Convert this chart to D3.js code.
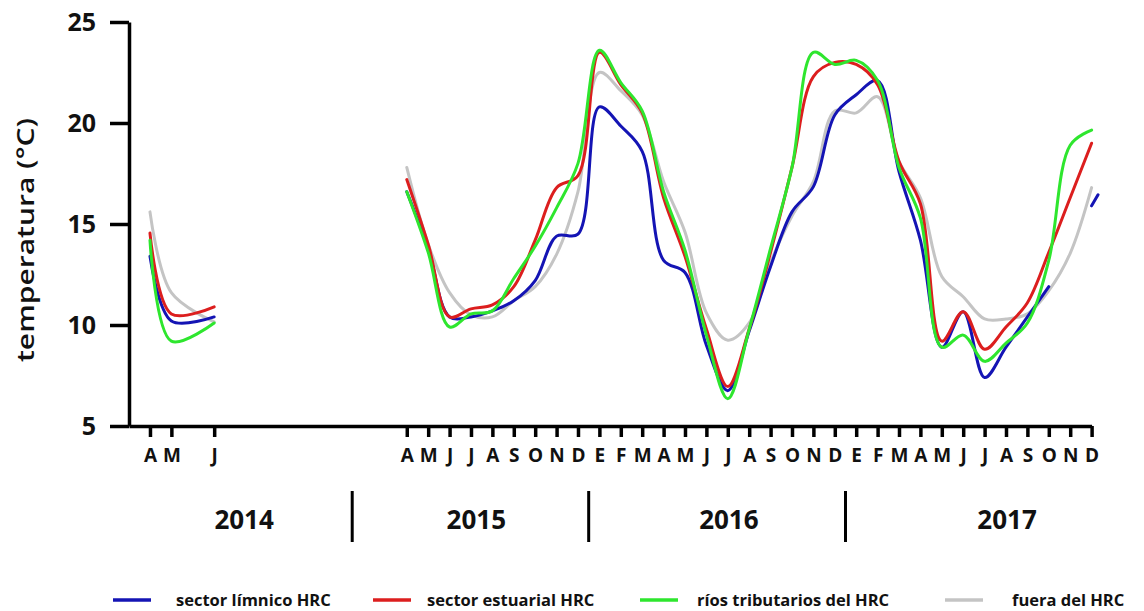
<!DOCTYPE html>
<html>
<head>
<meta charset="utf-8">
<script src="https://cdn.jsdelivr.net/npm/d3@7"></script>
<style>
  html, body { margin: 0; padding: 0; background: #fff; }
  svg { display: block; }
  text { font-family: "Open Sans", "DejaVu Sans", sans-serif; }
</style>
</head>
<body>
<svg id="chart" width="1144" height="611"></svg>
<script>
// ---- data (month index: 0 = April 2014 ... 44 = December 2017) ----
const sampleMonths = [0, 1, 3, 8,
  12, 13, 14, 15, 16, 17, 18, 19, 20,
  21, 22, 23, 24, 25, 26, 27, 28, 29, 30, 31, 32,
  33, 34, 35, 36, 37, 38, 39, 40, 41, 42, 43, 44, 44.3];

const limnico = [13.4, 10.2, 10.4, null,
  16.6, 13.8, 10.4, 10.4, 10.7, 11.2, 12.2, 14.4, 14.5,
  20.8, 19.85, 18.6, 13.2, 12.6, 9.0, 6.75, 9.7, 12.9, 15.6, 16.85, 20.4,
  21.4, 22.1, 17.6, 14.2, 8.9, 10.66, 7.4, 8.9, 10.4, 11.9, null, 15.9, 16.45];

const estuarial = [14.55, 10.55, 10.9, null,
  17.2, 14.0, 10.4, 10.8, 11.0, 11.9, 14.2, 16.8, 17.4,
  23.5, 21.9, 20.5, 16.3, 13.4, 9.8, 6.95, 9.8, 13.6, 17.8, 22.3, 23.0,
  22.9, 21.9, 18.1, 16.0, 9.2, 10.66, 8.8, 9.9, 11.1, 13.6, 16.3, 19.0, null];

const tributarios = [14.2, 9.2, 10.1, null,
  16.6, 13.6, 9.9, 10.55, 10.7, 12.3, 13.9, 15.8, 18.0,
  23.6, 22.0, 20.6, 16.6, 13.7, 9.5, 6.35, 9.8, 13.8, 17.8, 23.5, 22.9,
  23.1, 22.1, 17.8, 15.3, 8.9, 9.5, 8.2, 9.1, 10.1, 13.2, 18.9, 19.65, null];

const fuera = [15.6, 11.6, 10.15, null,
  17.8, 14.0, 11.6, 10.5, 10.4, 11.2, 11.9, 13.5, 16.6,
  22.5, 21.6, 20.4, 17.1, 14.6, 10.6, 9.25, 10.1, 13.1, 15.4, 17.1, 20.6,
  20.5, 21.3, 18.1, 16.3, 12.4, 11.4, 10.3, 10.3, 10.55, 11.7, 13.55, 16.8, null];

const seriesNames = ["sector límnico HRC", "sector estuarial HRC", "ríos tributarios del HRC", "fuera del HRC"];
const seriesColors = ["#1414b4", "#dc1e1e", "#2ee62e", "#c4c4c4"];

const tickMonths = [0, 1, 3,
  12, 13, 14, 15, 16, 17, 18, 19, 20,
  21, 22, 23, 24, 25, 26, 27, 28, 29, 30, 31, 32,
  33, 34, 35, 36, 37, 38, 39, 40, 41, 42, 43, 44];
const tickLabels = ["A", "M", "J",
  "A", "M", "J", "J", "A", "S", "O", "N", "D",
  "E", "F", "M", "A", "M", "J", "J", "A", "S", "O", "N", "D",
  "E", "F", "M", "A", "M", "J", "J", "A", "S", "O", "N", "D"];

const years = ["2014", "2015", "2016", "2017"];
const yearCenters = [4.4, 15.25, 27.05, 40.05];
const yearDividers = [9.45, 20.5, 32.5];
const yTicks = [5, 10, 15, 20, 25];

// ---- layout ----
const svg = d3.select("#chart");
const x = d3.scaleLinear().domain([-0.98, 44]).range([129, 1091.6]);
const y = d3.scaleLinear().domain([5, 25]).range([426, 22]);

// y axis
const yAxis = svg.append("g")
  .attr("transform", "translate(129,0)")
  .call(d3.axisLeft(y).tickValues(yTicks).tickSize(19).tickSizeOuter(0).tickPadding(14).tickFormat(d3.format("d")));
yAxis.select(".domain").attr("stroke", "#000").attr("stroke-width", 3.5);
yAxis.selectAll(".tick line").attr("stroke", "#000").attr("stroke-width", 3.5);
yAxis.selectAll(".tick text")
  .attr("fill", "#111").style("font-size", "25px").style("font-weight", "700");

// x axis
const labelMap = new Map(tickMonths.map((m, i) => [m, tickLabels[i]]));
const xAxis = svg.append("g")
  .attr("transform", "translate(0,426)")
  .call(d3.axisBottom(x).tickValues(tickMonths).tickSize(11).tickSizeOuter(0).tickPadding(12)
    .tickFormat(d => labelMap.get(d)));
xAxis.select(".domain").attr("stroke", "#000").attr("stroke-width", 3.5);
xAxis.selectAll(".tick line").attr("stroke", "#000").attr("stroke-width", 3.5);
xAxis.selectAll(".tick text")
  .attr("fill", "#111").style("font-size", "19px").style("font-weight", "700");

// year labels and dividers
svg.append("g").selectAll("line").data(yearDividers).join("line")
  .attr("x1", d => x(d)).attr("x2", d => x(d))
  .attr("y1", 491).attr("y2", 542)
  .attr("stroke", "#000").attr("stroke-width", 3);
svg.append("g").selectAll("text").data(years).join("text")
  .attr("x", (d, i) => x(yearCenters[i]))
  .attr("y", 529)
  .attr("text-anchor", "middle")
  .attr("fill", "#111")
  .style("font-size", "26px").style("font-weight", "700")
  .text(d => d);

// y axis title
svg.append("text")
  .attr("transform", "translate(34,240) rotate(-90)")
  .attr("text-anchor", "middle")
  .attr("fill", "#111")
  .attr("textLength", 244)
  .attr("lengthAdjust", "spacingAndGlyphs")
  .style("font-size", "24px")
  .style("font-weight", "600")
  .text("temperatura (°C)");

// lines
const allSeries = [limnico, estuarial, tributarios, fuera];
const drawOrder = [3, 0, 1, 2];
const line = d3.line()
  .defined(d => d.v != null)
  .x(d => x(d.m))
  .y(d => y(d.v))
  .curve(d3.curveCatmullRom.alpha(0.5));

svg.append("g").selectAll("path").data(drawOrder).join("path")
  .attr("d", k => line(sampleMonths.map((m, i) => ({ m: m, v: allSeries[k][i] }))))
  .attr("fill", "none")
  .attr("stroke", k => seriesColors[k])
  .attr("stroke-width", 3)
  .attr("stroke-linejoin", "round")
  .attr("stroke-linecap", "round");

// legend
const legendX = [113, 373, 640, 945];
const legendTextX = [176, 427, 697, 1012];
const lg = svg.append("g").selectAll("g").data(seriesNames).join("g");
lg.append("line")
  .attr("x1", (d, i) => legendX[i]).attr("x2", (d, i) => legendX[i] + 38)
  .attr("y1", 600).attr("y2", 600)
  .attr("stroke", (d, i) => seriesColors[i]).attr("stroke-width", 3.5);
lg.append("text")
  .attr("x", (d, i) => legendTextX[i]).attr("y", 606)
  .attr("fill", "#111")
  .style("font-size", "16.5px").style("font-weight", "700")
  .text(d => d);
</script>
</body>
</html>
